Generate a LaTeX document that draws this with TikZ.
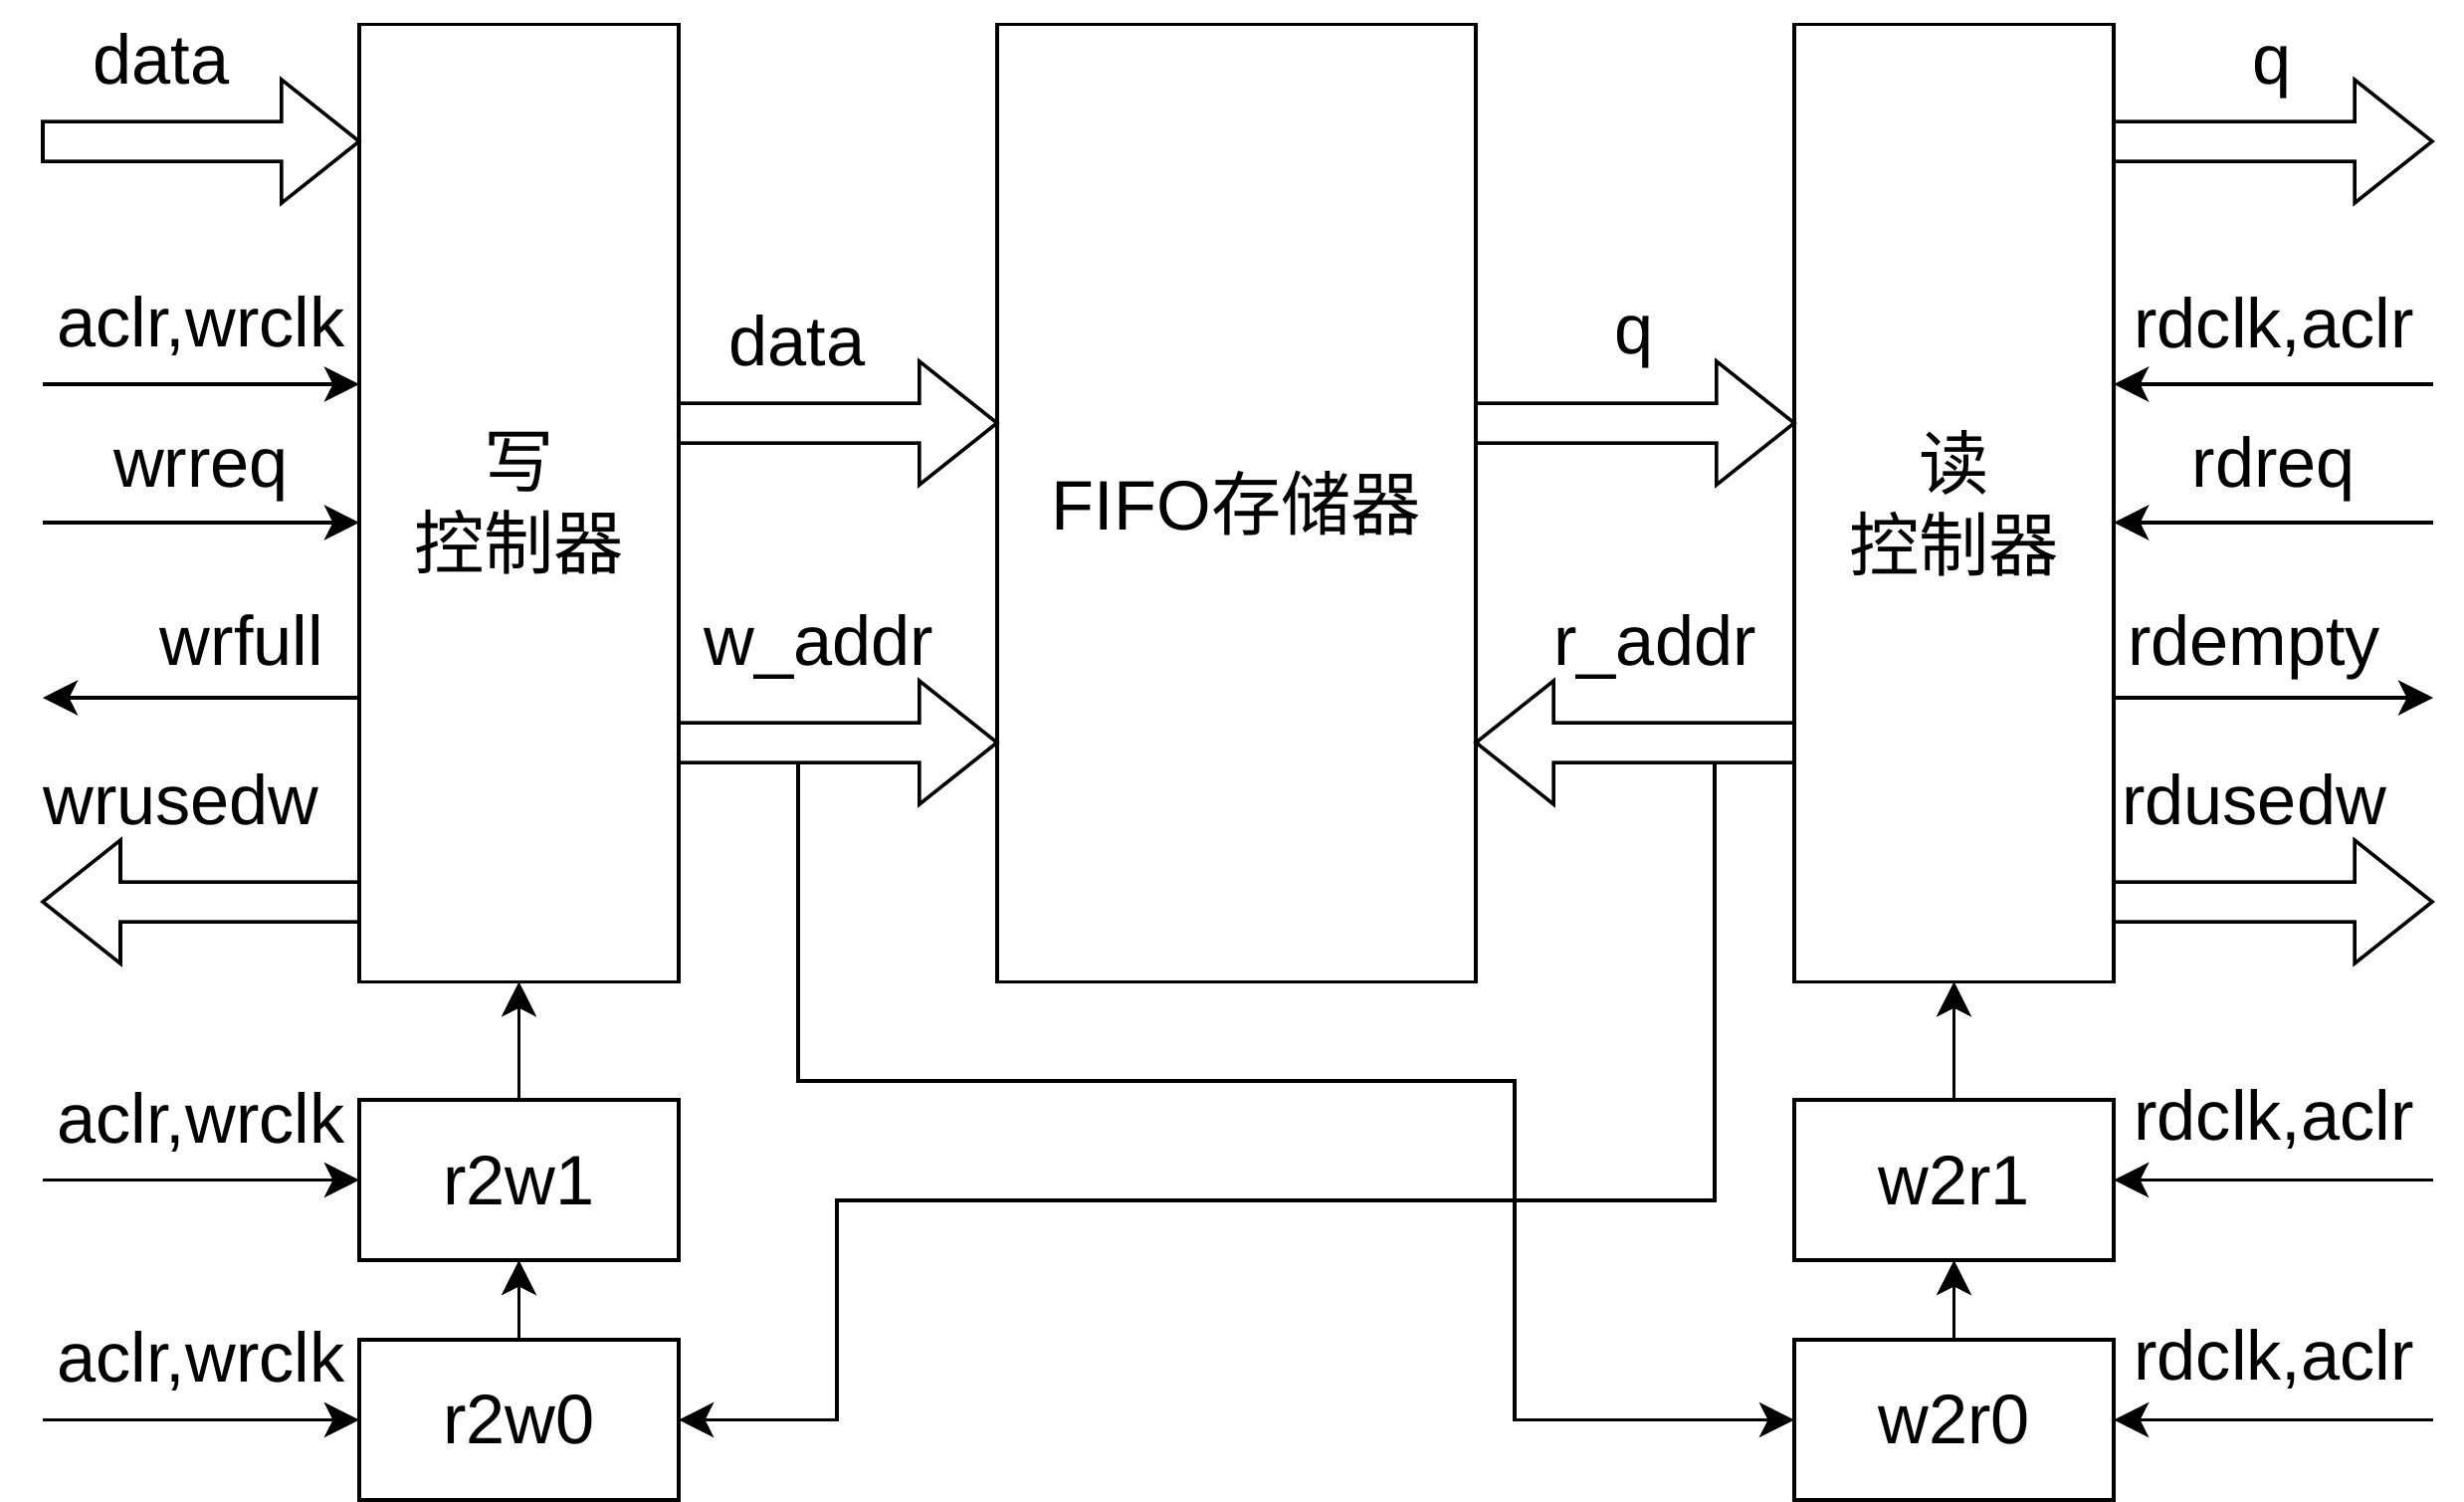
\documentclass[tikz,border=0pt]{standalone}
\usepackage{fontspec}
\setmainfont{Liberation Sans}
\newfontfamily\cjk{Noto Sans CJK SC}
\usetikzlibrary{positioning}
\usetikzlibrary{arrows.meta, calc}

\tikzset{
  blk/.style={draw, line width=1pt, inner sep=0pt, outer sep=0pt,
    minimum width=3.21cm, font=\fontsize{20}{24}\selectfont},
  ctl/.style={blk, minimum height=9.61cm, align=center,
    font=\cjk\fontsize{20}{23.3}\selectfont},
  lbl/.style={anchor=base, inner sep=0pt, font=\fontsize{20}{24}\selectfont},
  sig/.style={line width=1pt, -{Stealth[length=10pt,width=10pt,inset=2.5pt]}},
  bus/.style={draw, line width=1pt, fill=white, line join=miter},
}

% wide bus arrow from #1 to #2, #3 = head length with sign
\newcommand{\busarrow}[3]{%
  \draw[bus] ($(#1)+(0,20)$) -- ($(#2)+(#3,20)$) -- ($(#2)+(#3,62)$) -- (#2)
    -- ($(#2)+(#3,-62)$) -- ($(#2)+(#3,-20)$) -- ($(#1)+(0,-20)$) -- cycle;}

\begin{document}
\begin{tikzpicture}[x=0.01cm, y=-0.01cm]
  \useasboundingbox (0,0) rectangle (2476,1508);

  % blocks
  \node[ctl] (wr) at (521.5,505.5) {写\\控制器};
  \node[blk, minimum width=4.81cm, minimum height=9.61cm] (fifo) at (1242.5,505.5) {FIFO{\cjk 存储器}};
  \node[ctl] (rd) at (1963.5,505.5) {读\\控制器};
  \node[blk, minimum height=1.61cm] (r2w1) at (521.5,1185.5) {r2w1};
  \node[blk, minimum height=1.61cm] (r2w0) at (521.5,1426.5) {r2w0};
  \node[blk, minimum height=1.61cm] (w2r1) at (1963.5,1185.5) {w2r1};
  \node[blk, minimum height=1.61cm] (w2r0) at (1963.5,1426.5) {w2r0};

  % write side signals
  \coordinate (din) at (43,142);
  \coordinate (wdin) at (wr.west |- din);
  \busarrow{din}{wdin}{-78}
  \coordinate (wclk) at (43,386);
  \draw[sig] (wclk) -- (wr.west |- wclk);
  \coordinate (wreq) at (43,525);
  \draw[sig] (wreq) -- (wr.west |- wreq);
  \coordinate (wfull) at (43,701);
  \draw[sig] (wr.west |- wfull) -- (wfull);
  \coordinate (wused) at (43,906);
  \coordinate (wusedt) at (wr.west |- wused);
  \busarrow{wusedt}{wused}{78}
  \coordinate (wclka) at ($(r2w1.west)+(-318,0)$);
  \draw[sig] (wclka) -- (r2w1.west);
  \coordinate (wclkb) at ($(r2w0.west)+(-318,0)$);
  \draw[sig] (wclkb) -- (r2w0.west);
  \draw[sig] (r2w0) -- (r2w1);
  \draw[sig] (r2w1) -- (wr);

  % write ctrl <-> fifo
  \coordinate (wdata) at ($(wr.east)+(0,-80.5)$);
  \coordinate (fdata) at (fifo.west |- wdata);
  \busarrow{wdata}{fdata}{-78}
  \coordinate (waddr) at ($(wr.east)+(0,240.5)$);
  \coordinate (faddr) at (fifo.west |- waddr);
  \busarrow{waddr}{faddr}{-78}

  % fifo <-> read ctrl
  \coordinate (fq) at (fifo.east |- wdata);
  \coordinate (rq) at (rd.west |- wdata);
  \busarrow{fq}{rq}{-78}
  \coordinate (raddr) at (rd.west |- waddr);
  \coordinate (fraddr) at (fifo.east |- waddr);
  \busarrow{raddr}{fraddr}{78}

  % read side signals
  \coordinate (qout) at (2444,142);
  \coordinate (rqout) at (rd.east |- qout);
  \busarrow{rqout}{qout}{-78}
  \coordinate (rclk) at (2445,386);
  \draw[sig] (rclk) -- (rd.east |- rclk);
  \coordinate (rreq) at (2445,525);
  \draw[sig] (rreq) -- (rd.east |- rreq);
  \coordinate (rempty) at (2445,701);
  \draw[sig] (rd.east |- rempty) -- (rempty);
  \coordinate (rused) at (2444,906);
  \coordinate (rusedt) at (rd.east |- rused);
  \busarrow{rusedt}{rused}{-78}
  \coordinate (rclka) at ($(w2r1.east)+(321,0)$);
  \draw[sig] (rclka) -- (w2r1.east);
  \coordinate (rclkb) at ($(w2r0.east)+(321,0)$);
  \draw[sig] (rclkb) -- (w2r0.east);
  \draw[sig] (w2r0) -- (w2r1);
  \draw[sig] (w2r1) -- (rd);

  % address sync paths
  \coordinate (wtap) at (802,766);
  \draw[sig] (wtap) |- (1522,1086) |- (w2r0.west);
  \coordinate (rtap) at (1723,766);
  \draw[sig] (rtap) |- (841,1206) |- (r2w0.east);

  % labels
  \node[lbl] (ldin) at (162,84) {data};
  \node[lbl] (lwclk) at (202,348) {aclr,wrclk};
  \node[lbl] (lwreq) at (202,489) {wrreq};
  \node[lbl] (lwfull) at (243,668) {wrfull};
  \node[lbl] (lwused) at (182,828) {wrusedw};
  \node[lbl] (lwdata) at (801,367) {data};
  \node[lbl] (lwaddr) at (823,668) {w\_addr};
  \node[lbl] (lwclka) at (202,1148) {aclr,wrclk};
  \node[lbl] (lwclkb) at (202,1388) {aclr,wrclk};
  \node[lbl] (lqout) at (2283,84) {q};
  \node[lbl] (lqmid) at (1642,355) {q};
  \node[lbl] (lrclk) at (2285,349) {rdclk,aclr};
  \node[lbl] (lrreq) at (2285,489) {rdreq};
  \node[lbl] (lrempty) at (2265,668) {rdempty};
  \node[lbl] (lraddr) at (1663,668) {r\_addr};
  \node[lbl] (lrused) at (2265,828) {rdusedw};
  \node[lbl] (lrclka) at (2285,1145) {rdclk,aclr};
  \node[lbl] (lrclkb) at (2285,1386) {rdclk,aclr};
\end{tikzpicture}
\end{document}
